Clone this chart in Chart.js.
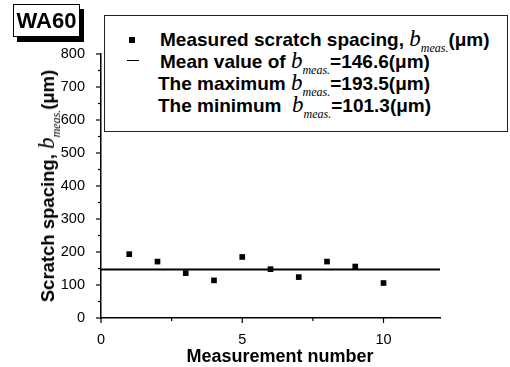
<!DOCTYPE html>
<html lang="en">
<head>
    <meta charset="UTF-8">
    <title>WA60 scratch spacing</title>
    <script src="https://cdn.jsdelivr.net/npm/chart.js"></script>
    <style>
        html, body { margin: 0; padding: 0; background: #fff; }
        #wrap { position: relative; width: 510px; height: 367px; font-family: "Liberation Sans", Arial, sans-serif; color: #000; }
        #wrap canvas { position: absolute; left: 0; top: 0; }
        .tag { position: absolute; left: 13px; top: 4px; width: 65px; height: 31px; border: 1.5px solid #000;
               box-shadow: 4px 5px 0 #000; background: #fff; font-weight: bold; font-size: 22px;
               line-height: 31px; text-align: center; }
        .legend { position: absolute; left: 104px; top: 15px; width: 402px; height: 115px; border: 1px solid #222;
                  background: #fff; font-weight: bold; font-size: 19px; }
        .legend .row { position: absolute; left: 0; white-space: nowrap; line-height: 22px; }
        .legend .txt { position: absolute; left: 55px; }
        .b { font-family: "Liberation Serif", "DejaVu Serif", serif; font-style: italic; font-weight: normal; font-size: 23px; }
        .sub { font-family: "Liberation Serif", "DejaVu Serif", serif; font-style: italic; font-weight: normal;
               font-size: 12px; position: relative; top: 6px; }
        .mark { position: absolute; background: #000; }
        .ytitle { position: absolute; left: 47px; top: 186px; transform: translate(-50%, -50%) rotate(-90deg);
                  white-space: nowrap; font-weight: bold; font-size: 18.5px; }
        .xtitle { position: absolute; left: 0; top: 345px; width: 560px; text-align: center;
                  font-weight: bold; font-size: 18px; line-height: 22px; }
    </style>
</head>
<body>
<div id="wrap">
    <canvas id="chart" width="510" height="367"></canvas>
    <div class="tag">WA60</div>
    <div class="ytitle">Scratch spacing, <span class="b">b</span><span class="sub">meas.</span>(&mu;m)</div>
    <div class="xtitle">Measurement number</div>
    <div class="legend">
        <div class="mark" style="left:24px; top:21px; width:6px; height:6px;"></div>
        <div class="mark" style="left:22px; top:44px; width:12px; height:1.2px;"></div>
        <div class="row" style="top:12px;"><span class="txt" style="left:55px;">Measured scratch spacing, <span class="b">b</span><span class="sub">meas.</span>(&mu;m)</span></div>
        <div class="row" style="top:34px;"><span class="txt" style="left:55px;">Mean value of <span class="b">b</span><span class="sub">meas.</span>=146.6(&mu;m)</span></div>
        <div class="row" style="top:56px;"><span class="txt" style="left:53px;">The maximum <span class="b">b</span><span class="sub">meas.</span>=193.5(&mu;m)</span></div>
        <div class="row" style="top:78px;"><span class="txt" style="left:53px;">The minimum&nbsp; <span class="b">b</span><span class="sub">meas.</span>=101.3(&mu;m)</span></div>
    </div>
</div>

<script>
// valeurs
var measurementNumbers = [1, 2, 3, 4, 5, 6, 7, 8, 9, 10];
var scratchSpacing = [193.5, 171, 136, 114, 185, 148, 124, 171, 156, 106];
var meanValue = 146.6;
var meanRange = [0, 12];
var xMajorTicks = [0, 5, 10];
var yMajorTicks = [0, 100, 200, 300, 400, 500, 600, 700, 800];

var font = { family: "'Liberation Sans', Arial, sans-serif", size: 14.5 };

// petits traits des axes (majeurs et mineurs)
var tickMarks = {
    id: "tickMarks",
    afterDraw: function (chart) {
        var ctx = chart.ctx;
        var xs = chart.scales.x, ys = chart.scales.y;
        ctx.save();
        ctx.strokeStyle = "#000";
        ctx.lineWidth = 1.2;
        ys.ticks.forEach(function (t) {
            var py = ys.getPixelForValue(t.value);
            var len = t.value % 100 === 0 ? 5 : 3;
            ctx.beginPath();
            ctx.moveTo(xs.left - len, py);
            ctx.lineTo(xs.left, py);
            ctx.stroke();
        });
        xs.ticks.forEach(function (t) {
            var px = xs.getPixelForValue(t.value);
            var len = t.value % 5 === 0 ? 5 : 3;
            ctx.beginPath();
            ctx.moveTo(px, ys.bottom);
            ctx.lineTo(px, ys.bottom + len);
            ctx.stroke();
        });
        ctx.restore();
    }
};

new Chart(document.getElementById("chart").getContext("2d"), {
    type: "scatter",
    data: {
        datasets: [{
            label: "Measured scratch spacing",
            data: measurementNumbers.map(function (n, i) { return { x: n, y: scratchSpacing[i] }; }),
            backgroundColor: "#000",
            borderColor: "#000",
            pointStyle: "rect",
            pointRadius: 4,
            borderWidth: 0
        }, {
            type: "line",
            label: "Mean value",
            data: meanRange.map(function (x) { return { x: x, y: meanValue }; }),
            borderColor: "#000",
            borderWidth: 2,
            pointRadius: 0,
            fill: false
        }]
    },
    options: {
        responsive: false,
        animation: false,
        layout: { padding: { left: 0, right: 70, top: 54, bottom: 0 } },
        plugins: { legend: { display: false }, tooltip: { enabled: false } },
        scales: {
            x: {
                type: "linear",
                min: 0,
                max: 12,
                grid: { display: false },
                border: { display: true, color: "#000", width: 1.5 },
                afterBuildTicks: function (scale) {
                    scale.ticks = scale.ticks.filter(function (t) { return t.value <= 10.01; });
                },
                afterFit: function (scale) { scale.height = 49; },
                ticks: {
                    stepSize: 2.5,
                    padding: 5,
                    maxRotation: 0,
                    autoSkip: false,
                    color: "#000",
                    font: font,
                    callback: function (v) { return xMajorTicks.indexOf(v) >= 0 ? String(v) : ""; }
                }
            },
            y: {
                min: 0,
                max: 800,
                grid: { display: false },
                border: { display: true, color: "#000", width: 1.5 },
                afterFit: function (scale) { scale.width = 101; },
                ticks: {
                    stepSize: 50,
                    padding: 8,
                    autoSkip: false,
                    color: "#000",
                    font: font,
                    callback: function (v) { return yMajorTicks.indexOf(v) >= 0 ? String(v) : ""; }
                }
            }
        }
    },
    plugins: [tickMarks]
});
</script>
</body>
</html>
